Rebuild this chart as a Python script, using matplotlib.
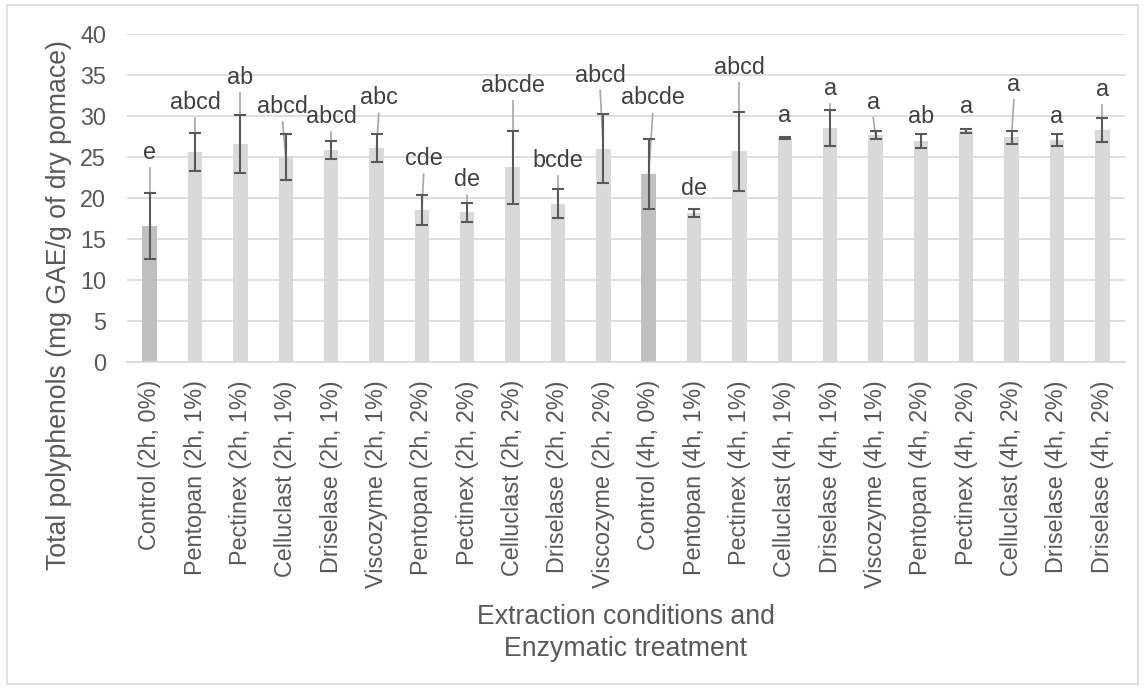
import matplotlib
matplotlib.use("Agg")
import matplotlib.pyplot as plt
from matplotlib.patches import Rectangle
import numpy as np

plt.rcParams["font.family"] = ["Liberation Sans", "DejaVu Sans"]

# ---- data ----
categories = [
    "Control (2h, 0%)", "Pentopan (2h, 1%)", "Pectinex (2h, 1%)", "Celluclast (2h, 1%)",
    "Driselase (2h, 1%)", "Viscozyme (2h, 1%)", "Pentopan (2h, 2%)", "Pectinex (2h, 2%)",
    "Celluclast (2h, 2%)", "Driselase (2h, 2%)", "Viscozyme (2h, 2%)", "Control (4h, 0%)",
    "Pentopan (4h, 1%)", "Pectinex (4h, 1%)", "Celluclast (4h, 1%)", "Driselase (4h, 1%)",
    "Viscozyme (4h, 1%)", "Pentopan (4h, 2%)", "Pectinex (4h, 2%)", "Celluclast (4h, 2%)",
    "Driselase (4h, 2%)", "Driselase (4h, 2%)",
]
polyphenols = [16.6, 25.6, 26.6, 25.0, 25.9, 26.1, 18.5, 18.25, 23.75, 19.3, 26.0,
               22.9, 18.2, 25.7, 27.3, 28.55, 27.7, 26.9, 28.2, 27.4, 27.1, 28.3]
std_dev = [4.0, 2.3, 3.5, 2.8, 1.1, 1.75, 1.85, 1.2, 4.45, 1.75, 4.2,
           4.3, 0.5, 4.8, 0.15, 2.15, 0.45, 0.85, 0.25, 0.8, 0.7, 1.5]
letters = ["e", "abcd", "ab", "abcd", "abcd", "abc", "cde", "de", "abcde", "bcde", "abcd",
           "abcde", "de", "abcd", "a", "a", "a", "ab", "a", "a", "a", "a"]
is_control = [c.startswith("Control") for c in categories]

# label placement (data units), as dragged in the original
label_y = [25.5, 31.6, 34.7, 31.2, 29.9, 32.2, 24.8, 22.3, 33.7, 24.6, 35.0,
           32.2, 21.2, 35.9, 30.1, 33.4, 31.7, 29.9, 31.2, 33.9, 29.9, 33.2]
label_dx = [0, 0, 0, -0.07, 0, 0.05, 0.04, 0, 0, 0, -0.07,
            0.09, 0, 0, 0, 0, -0.05, 0, 0, 0.05, 0, 0]

W, H = 1145, 688
fig = plt.figure(figsize=(W / 100, H / 100), dpi=100)
ax = fig.add_axes([127 / W, 1 - 362 / H, (1125 - 127) / W, (362 - 34) / H])

x = np.arange(len(categories))
colors = ["#BFBFBF" if c else "#D9D9D9" for c in is_control]
ax.bar(x, polyphenols, width=0.32, color=colors, zorder=2)

# leader lines from letters down to the bar top
for i, (v, ly, dx) in enumerate(zip(polyphenols, label_y, label_dx)):
    top = ly - 1.9
    if top - v > 1.5:
        ax.plot([i + dx, i], [top, v], color="#A6A6A6", lw=1.2, zorder=3)

ax.errorbar(x, polyphenols, yerr=std_dev, fmt="none", ecolor="#595959",
            elinewidth=1.5, capsize=4.5, capthick=1.5, zorder=4)

for i, (t, ly, dx) in enumerate(zip(letters, label_y, label_dx)):
    ax.text(i + dx, ly, t, ha="center", va="center", fontsize=16.8,
            color="#404040", zorder=5)

ax.set_xlim(-0.5, len(categories) - 0.5)
ax.set_ylim(0, 40)
ax.set_yticks(range(0, 41, 5))
ax.set_xticks(x)
ax.set_xticklabels(categories, rotation=90)
ax.tick_params(axis="both", length=0, labelsize=16.8, labelcolor="#595959")
ax.tick_params(axis="y", pad=15)
ax.tick_params(axis="x", pad=13)
ax.grid(axis="y", color="#D9D9D9", lw=1.2, zorder=0)
ax.set_axisbelow(True)
for s in ["top", "left", "right"]:
    ax.spines[s].set_visible(False)
ax.spines["bottom"].set_color("#D9D9D9")
ax.spines["bottom"].set_linewidth(1.2)

fig.text(626 / W, 1 - 633 / H, "Extraction conditions and\nEnzymatic treatment",
         ha="center", va="center", fontsize=19.2, color="#595959", linespacing=1.25)
fig.text(59 / W, 1 - 305 / H, "Total polyphenols (mg GAE/g of dry pomace)",
         ha="center", va="center", rotation=90, fontsize=19.2, color="#595959")

# chart area border
fig.patches.append(Rectangle((7 / W, 4 / H), (1138 - 7) / W, (684 - 5) / H,
                             transform=fig.transFigure, fill=False,
                             edgecolor="#D9D9D9", lw=1.2))

fig.savefig("out.png", dpi=100)
